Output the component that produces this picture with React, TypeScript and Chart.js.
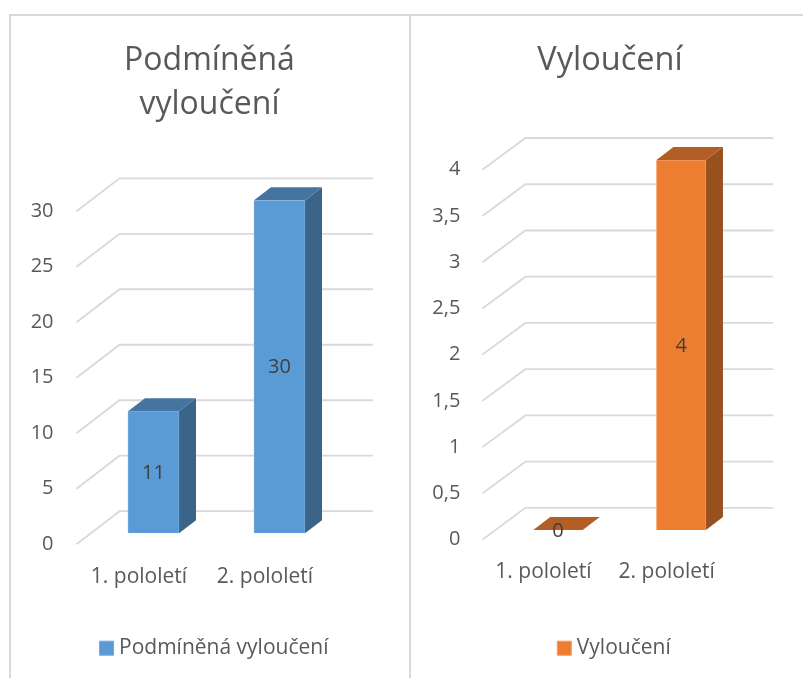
import React, { useEffect, useRef } from "react";
import { Chart, registerables } from "chart.js";

Chart.register(...registerables);

const categories = ["1. pololetí", "2. pololetí"];
const conditionalValues = [11, 30];
const expulsionValues = [0, 4];
const FONT = "'Open Sans', sans-serif";
const TEXT = "#595959";
const GRID = "#D9D9D9";

type Cfg = {
  title: string[];
  label: string;
  values: number[];
  max: number;
  step: number;
  pad: number;
  yWidth: number;
  titleBottom: number;
  gridFrontY: number;
  barWidth: number;
  colors: { front: string; side: string; top: string; edge: string };
  legendShift: number;
  width: number;
  xHeight: number;
  xPad: number;
  yPad: number;
  titleSize: number;
};

const left: Cfg = {
  title: ["Podmíněná", "vyloučení"],
  label: "Podmíněná vyloučení",
  values: conditionalValues,
  max: 30,
  step: 5,
  pad: 65.5,
  yWidth: 14,
  titleBottom: 73.3,
  gridFrontY: 11,
  barWidth: 51,
  colors: { front: "#5B9BD5", side: "#3A6589", top: "#44749F", edge: "#6FA8DC" },
  legendShift: 7,
  width: 397,
  xHeight: 104.5,
  xPad: 23.5,
  yPad: 29,
  titleSize: 32,
};

const right: Cfg = {
  title: ["Vyloučení"],
  label: "Vyloučení",
  values: expulsionValues,
  max: 4,
  step: 0.5,
  pad: 66.2,
  yWidth: 19.2,
  titleBottom: 77,
  gridFrontY: 9.7,
  barWidth: 49.5,
  colors: { front: "#ED7D31", side: "#96511E", top: "#B25E24", edge: "#F49A5E" },
  legendShift: 6.5,
  width: 398,
  xHeight: 107.8,
  xPad: 21.5,
  yPad: 28,
  titleSize: 32.5,
};

const H = 662;

function makePlugin(cfg: Cfg) {
  return {
    id: "depth",
    afterLayout(chart: any) {
      chart.legend.left += cfg.legendShift;
      chart.legend.right += cfg.legendShift;
      chart.scales.y.left = 0;
    },
    beforeDatasetsDraw(chart: any) {
      const { ctx, chartArea: a, scales } = chart;
      ctx.save();
      ctx.strokeStyle = GRID;
      ctx.lineWidth = 1.8;
      for (const t of scales.y.ticks) {
        const py = scales.y.getPixelForValue(t.value);
        ctx.beginPath();
        ctx.moveTo(a.left - 14, py + cfg.gridFrontY);
        ctx.lineTo(a.left + 29, py - 22);
        ctx.lineTo(a.right + 30.4, py - 22);
        ctx.stroke();
      }
      const dx = 17;
      const dy = 13;
      for (const bar of chart.getDatasetMeta(0).data) {
        const l = bar.x - bar.width / 2;
        const r = bar.x + bar.width / 2;
        ctx.fillStyle = cfg.colors.side;
        ctx.beginPath();
        ctx.moveTo(r, bar.y);
        ctx.lineTo(r + dx, bar.y - dy);
        ctx.lineTo(r + dx, bar.base - dy);
        ctx.lineTo(r, bar.base);
        ctx.closePath();
        ctx.fill();
        ctx.fillStyle = cfg.colors.top;
        ctx.beginPath();
        ctx.moveTo(l, bar.y);
        ctx.lineTo(l + dx, bar.y - dy);
        ctx.lineTo(r + dx, bar.y - dy);
        ctx.lineTo(r, bar.y);
        ctx.closePath();
        ctx.fill();
      }
      ctx.restore();
    },
    afterDatasetsDraw(chart: any) {
      const { ctx } = chart;
      ctx.save();
      ctx.fillStyle = "#404040";
      ctx.font = `20px ${FONT}`;
      ctx.textAlign = "center";
      ctx.textBaseline = "middle";
      chart.getDatasetMeta(0).data.forEach((bar: any, i: number) => {
        ctx.fillText(String(cfg.values[i]), bar.x, (bar.y + bar.base) / 2 + 1);
      });
      ctx.restore();
    },
  };
}

function Panel({ cfg, x }: { cfg: Cfg; x: number }) {
  const ref = useRef<HTMLCanvasElement>(null);
  useEffect(() => {
    const chart = new Chart(ref.current as HTMLCanvasElement, {
      type: "bar",
      data: {
        labels: categories,
        datasets: [
          {
            label: cfg.label,
            data: cfg.values,
            backgroundColor: cfg.colors.front,
            borderColor: cfg.colors.edge,
            borderWidth: 1,
            barThickness: cfg.barWidth,
          },
        ],
      },
      options: {
        responsive: false,
        animation: false,
        layout: { padding: { left: cfg.pad, right: cfg.pad, top: 0, bottom: 9.3 } },
        plugins: {
          tooltip: { enabled: false },
          title: {
            display: true,
            text: cfg.title,
            color: TEXT,
            font: { family: FONT, size: cfg.titleSize, weight: "normal", lineHeight: 44 / cfg.titleSize },
            padding: { top: 23, bottom: cfg.titleBottom },
          },
          legend: {
            position: "bottom",
            labels: {
              color: TEXT,
              font: { family: FONT, size: 21 },
              usePointStyle: true,
              pointStyle: "rect",
              boxWidth: 4,
              boxHeight: 14,
              padding: 0,
            },
          },
        },
        scales: {
          x: {
            grid: { display: false },
            border: { display: false },
            afterFit(s: any) {
              s.height = cfg.xHeight;
            },
            ticks: {
              color: TEXT,
              font: { family: FONT, size: 21 },
              padding: cfg.xPad,
              labelOffset: -14.5,
              maxRotation: 0,
            },
          },
          y: {
            min: 0,
            max: cfg.max,
            grid: { display: false },
            border: { display: false },
            afterFit(s: any) {
              s.width = cfg.yWidth;
            },
            ticks: {
              stepSize: cfg.step,
              color: TEXT,
              font: { family: FONT, size: 20 },
              padding: cfg.yPad,
              labelOffset: cfg.gridFrontY,
              callback: (v: any) => String(v).replace(".", ","),
            },
          },
        },
      },
      plugins: [makePlugin(cfg)],
    } as any);
    return () => chart.destroy();
  }, [cfg]);
  return (
    <canvas
      ref={ref}
      width={cfg.width}
      height={H}
      style={{ position: "absolute", left: x, top: 16, width: cfg.width, height: H }}
    />
  );
}

export default function App() {
  const line = (s: React.CSSProperties) => <div style={{ position: "absolute", background: GRID, ...s }} />;
  return (
    <div style={{ position: "fixed", left: 0, top: 0, width: 803, height: 678, overflow: "hidden", background: "#fff" }}>
      {line({ left: 9, top: 14, width: 794, height: 2 })}
      {line({ left: 9, top: 14, width: 2, height: 664 })}
      {line({ left: 409, top: 14, width: 2, height: 664 })}
      <Panel cfg={left} x={11} />
      <Panel cfg={right} x={411} />
    </div>
  );
}
